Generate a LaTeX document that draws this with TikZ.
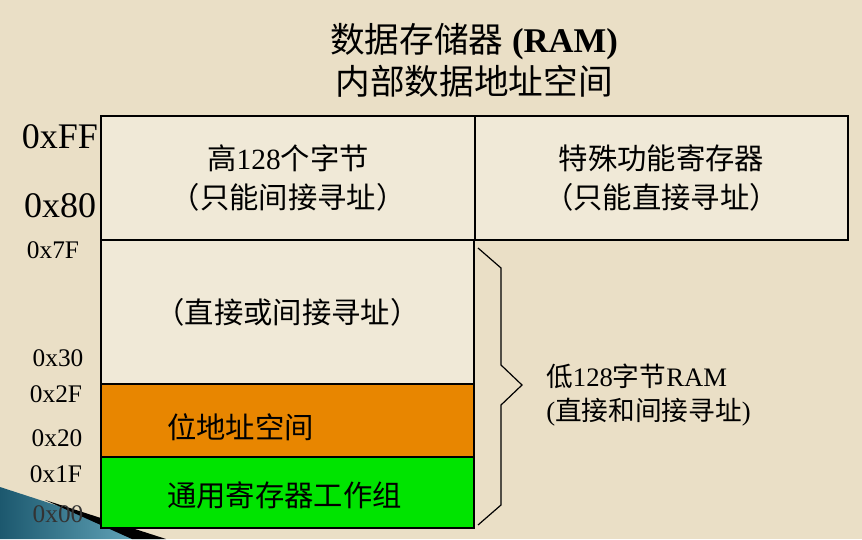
\documentclass[tikz,border=0pt]{standalone}
\usepackage{fontspec}
\setmainfont{Liberation Serif}
\newfontfamily\cjk{Noto Sans CJK SC}
\usetikzlibrary{positioning}

\definecolor{slidebg}{RGB}{234,223,198}
\definecolor{cellbg}{RGB}{240,233,215}
\definecolor{bitorange}{RGB}{232,134,0}
\definecolor{reggreen}{RGB}{0,228,0}
\definecolor{swoopdark}{RGB}{28,88,110}
\definecolor{swooplight}{RGB}{110,178,198}

\begin{document}
\begin{tikzpicture}[x=0.75pt, y=-0.75pt,
    region/.style={draw=black, line width=1.6pt, fill=cellbg, anchor=north west, inner sep=0pt, align=center, font=\fontsize{22pt}{29pt}\selectfont},
    titletext/.style={font=\fontsize{26pt}{30pt}\selectfont, inner sep=0pt},
    celltext/.style={font=\fontsize{22pt}{26pt}\selectfont, inner sep=0pt, anchor=west},
    bigaddr/.style={font=\fontsize{27pt}{30pt}\selectfont, inner sep=0pt},
    addr/.style={font=\fontsize{19pt}{22pt}\selectfont, inner sep=0pt},
    sidetext/.style={font=\fontsize{20pt}{26pt}\selectfont, inner sep=0pt, align=left, anchor=west},
    brace/.style={draw=black, line width=0.9pt, line join=miter}
]
    % page
    \fill[slidebg] (0,0) rectangle (862,539);
    \useasboundingbox (0,0) rectangle (862,539);

    % template swoosh, lower left
    \shade[left color=swoopdark, right color=swooplight] (0,487) -- (160,539) -- (0,539) -- cycle;
    \fill[black] (45,500) -- (166,539) -- (132,539) -- cycle;

    \node[titletext] (title) at (474,42) {{\cjk 数据存储器} \textbf{(RAM)}};
    \node[titletext] (subtitle) at (474,81) {\cjk 内部数据地址空间};

    % memory map
    \node[region, minimum width=280.5pt, minimum height=93pt] (high) at (100,115) {{\cjk 高}128{\cjk 个字节}\\{\cjk （只能间接寻址）}};
    \node[region, minimum width=279.75pt, minimum height=93pt] (sfr) at (474,115) {{\cjk 特殊功能寄存器}\\{\cjk （只能直接寻址）}};
    \node[region, minimum width=279.75pt, minimum height=108pt] (direct) at (100,239) {\cjk （直接或间接寻址）};
    \node[region, fill=bitorange, minimum width=279.75pt, minimum height=54.75pt] (bitaddr) at (100,383) {};
    \node[region, fill=reggreen, minimum width=279.75pt, minimum height=53.25pt] (regbank) at (100,456) {};
    \node[celltext] (bitlabel) at (167,427) {\cjk 位地址空间};
    \node[celltext] (reglabel) at (167,495) {\cjk 通用寄存器工作组};

    % addresses
    \node[bigaddr] (aFF) at (60,137) {0xFF};
    \node[bigaddr] (a80) at (60,206) {0x80};
    \node[addr] (a7F) at (53,250) {0x7F};
    \node[addr] (a30) at (58,358) {0x30};
    \node[addr] (a2F) at (56,394) {0x2F};
    \node[addr] (a20) at (57,438) {0x20};
    \node[addr] (a1F) at (56,474) {0x1F};
    \node[addr, text=black!80] (a00) at (58,514) {0x00};

    % brace for the lower 128 bytes
    \coordinate (btop) at (478,248);
    \coordinate (btip) at (522,385);
    \coordinate (bbot) at (478,525);
    \draw[brace] (btop) -- (501,268) -- (501,365) -- (btip) -- (501,405) -- (501,505) -- (bbot);
    \node[sidetext] (lowram) at (546,395) {{\cjk 低}128{\cjk 字节}RAM\\({\cjk 直接和间接寻址})};

\end{tikzpicture}
\end{document}
